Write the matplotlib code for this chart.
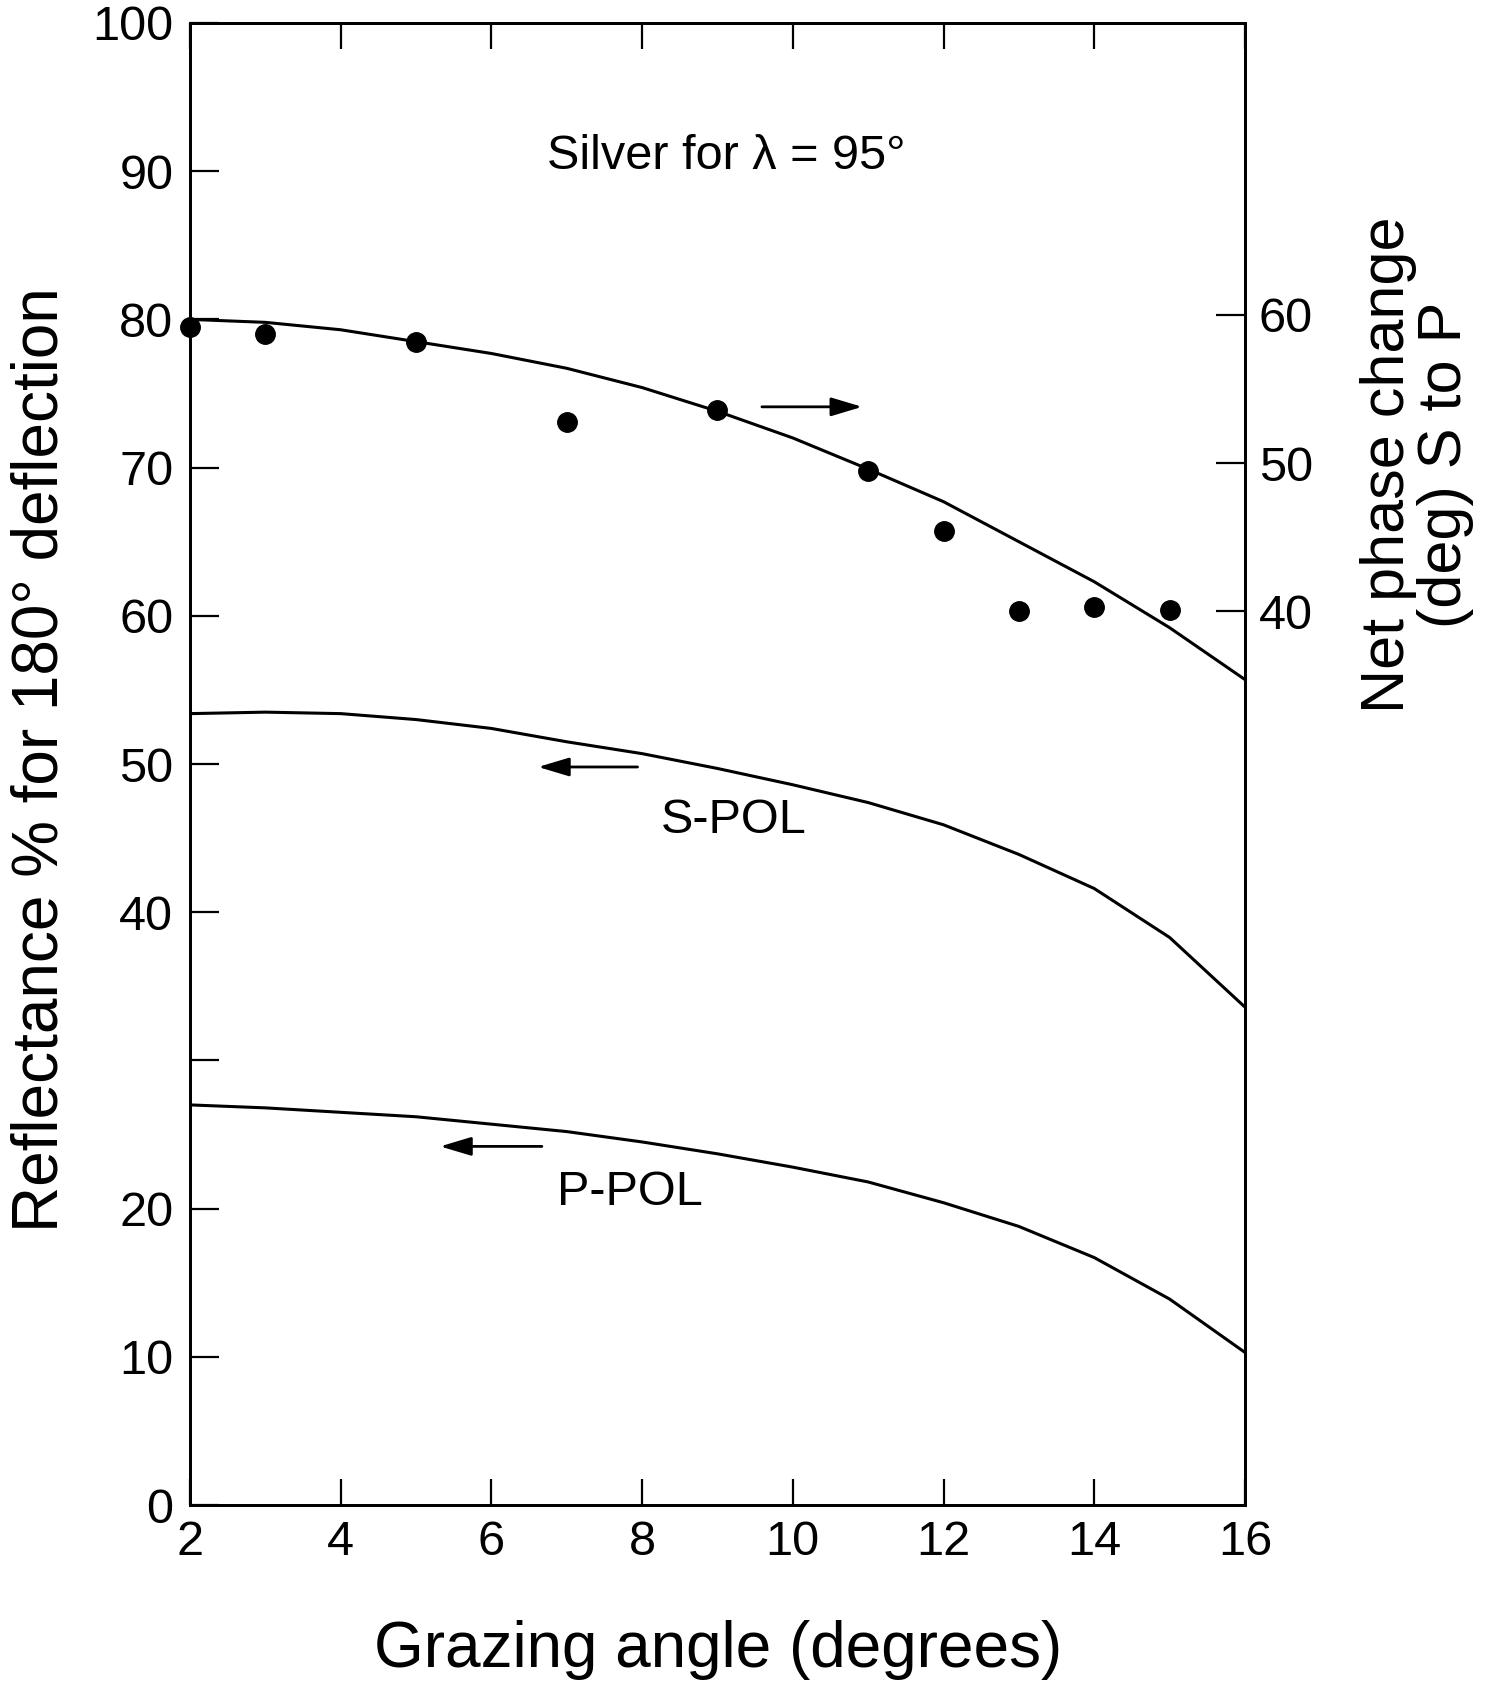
import matplotlib
matplotlib.use('Agg')
import matplotlib.pyplot as plt

plt.rcParams['font.family'] = ['Liberation Sans', 'DejaVu Sans']

# Datos
angle = [2, 3, 4, 5, 6, 7, 8, 9, 10, 11, 12, 13, 14, 15, 16]
s_pol = [53.4, 53.5, 53.4, 53.0, 52.4, 51.5, 50.7, 49.7, 48.6, 47.4, 45.9, 43.9, 41.6, 38.3, 33.6]
p_pol = [27.0, 26.8, 26.5, 26.2, 25.7, 25.2, 24.5, 23.7, 22.8, 21.8, 20.4, 18.8, 16.7, 13.9, 10.3]
phase_fit = [59.7, 59.5, 59.0, 58.2, 57.4, 56.4, 55.1, 53.5, 51.7, 49.6, 47.4, 44.7, 42.0, 38.9, 35.4]

meas_angle = [2, 3, 5, 7, 9, 11, 12, 13, 14, 15]
meas_phase = [59.2, 58.7, 58.2, 52.8, 53.6, 49.5, 45.4, 40.0, 40.3, 40.1]

x_ticks = [2, 4, 6, 8, 10, 12, 14, 16]
y_ticks = [0, 10, 20, 30, 40, 50, 60, 70, 80, 90, 100]
y_labels = ['0', '10', '20', '', '40', '50', '60', '70', '80', '90', '100']
phase_ticks = [40, 50, 60]

fig = plt.figure(figsize=(15.03, 16.89), dpi=100)
ax = fig.add_axes([0.1264, 0.1089, 0.7019, 0.8775])
ax2 = ax.twinx()

ax.plot(angle, s_pol, color='black', lw=2.2)
ax.plot(angle, p_pol, color='black', lw=2.2)
ax2.plot(angle, phase_fit, color='black', lw=2.2)
ax2.plot(meas_angle, meas_phase, 'o', color='black', ms=14, clip_on=False)

ax.set_xlim(2, 16)
ax.set_ylim(0, 100)
ax2.set_ylim(-20.3, 79.7)

ax.set_xticks(x_ticks)
ax.set_yticks(y_ticks)
ax.set_yticklabels(y_labels)
ax2.set_yticks(phase_ticks)

ax.tick_params(axis='x', direction='in', top=True, length=19, width=1.6,
               labelsize=35, pad=11)
ax.tick_params(axis='y', direction='in', length=21, width=1.6,
               labelsize=35, pad=12)
ax2.tick_params(axis='y', direction='in', length=21, width=1.6,
                labelsize=35, pad=10)

for a in (ax, ax2):
    for sp in a.spines.values():
        sp.set_linewidth(2)

# textos
ax.text(9.12, 91, 'Silver for λ = 95°', fontsize=35, ha='center', va='center')
ax.text(9.21, 46.2, 'S-POL', fontsize=35, ha='center', va='center')
ax.text(7.84, 21.1, 'P-POL', fontsize=35, ha='center', va='center')

arrow = dict(arrowstyle='-|>,head_length=1.0,head_width=0.3', lw=2,
             color='black', mutation_scale=19, shrinkA=0, shrinkB=0)
ax.annotate('', xy=(10.92, 74.1), xytext=(9.59, 74.1), arrowprops=arrow)
ax.annotate('', xy=(6.62, 49.8), xytext=(7.94, 49.8), arrowprops=arrow)
ax.annotate('', xy=(5.32, 24.2), xytext=(6.67, 24.2), arrowprops=arrow)

fig.text(0.4775, 0.013, 'Grazing angle (degrees)', fontsize=46,
         ha='center', va='baseline')
fig.text(0.027, 0.55, 'Reflectance % for 180° deflection', fontsize=46,
         rotation=90, ha='center', va='center')
fig.text(0.943, 0.7247, 'Net phase change\n(deg) S to P', fontsize=44,
         rotation=90, ha='center', va='center', multialignment='center',
         linespacing=1.0)

fig.savefig('out.png', dpi=100)
